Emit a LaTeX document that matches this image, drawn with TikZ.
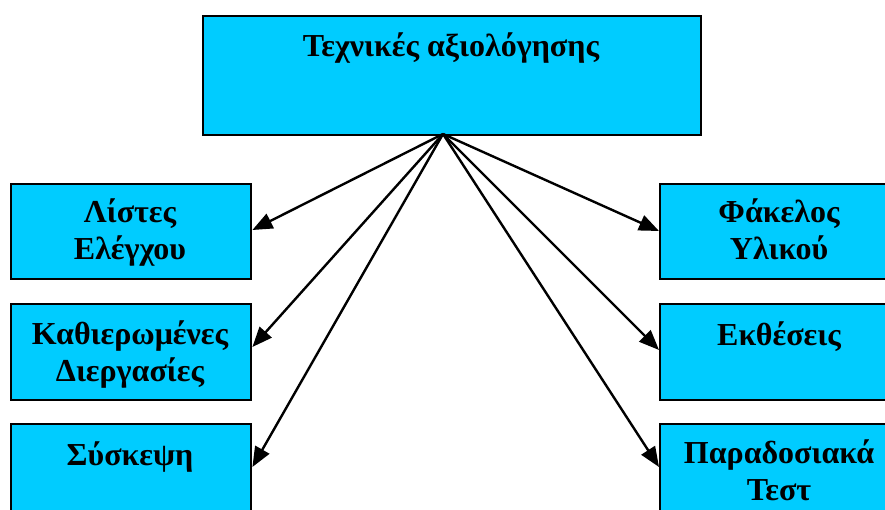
\documentclass[tikz,border=0pt]{standalone}
\usepackage{fontspec}
\setmainfont{Liberation Serif}
\usetikzlibrary{arrows.meta,calc}
\tikzset{
  box/.style={draw=black, line width=2.4pt, fill=boxblue, anchor=north west, inner sep=0pt},
  lbl/.style={font=\bfseries\fontsize{32}{37}\selectfont, align=center, anchor=base, inner sep=0pt},
  arr/.style={line width=2.4pt, -{Triangle[length=20pt,width=16pt]}}
}
\definecolor{boxblue}{RGB}{0,204,255}
\begin{document}
\begin{tikzpicture}[x=1pt,y=-1pt]
\useasboundingbox (0,0) rectangle (885,510);
\clip (0,0) rectangle (885,510);
\node[box, minimum width=498pt, minimum height=119pt] (top) at (202,15) {};
\node[box, minimum width=240pt, minimum height=95pt] (l1) at (10,183) {};
\node[box, minimum width=240pt, minimum height=96pt] (l2) at (10,303) {};
\node[box, minimum width=240pt, minimum height=95pt] (l3) at (10,423) {};
\node[box, minimum width=240pt, minimum height=95pt] (r1) at (659,183) {};
\node[box, minimum width=240pt, minimum height=96pt] (r2) at (659,303) {};
\node[box, minimum width=240pt, minimum height=95pt] (r3) at (659,423) {};
\node[lbl] (ttop) at (451,57) {Τεχνικές αξιολόγησης};
\node[lbl] (tl1) at (130,260) {Λίστες\\Ελέγχου};
\node[lbl] (tl2) at (130,381) {Καθιερωμένες\\Διεργασίες};
\node[lbl] (tl3) at (130,465) {Σύσκεψη};
\node[lbl] (tr1) at (779,260) {Φάκελος\\Υλικού};
\node[lbl] (tr2) at (779,345) {Εκθέσεις};
\node[lbl] (tr3) at (779,500) {Παραδοσιακά\\Τεστ};
\coordinate (o) at (443,134);
\draw[arr] (o) -- (l1.east |- 0,230);
\draw[arr] (o) -- (l2.east |- 0,347);
\draw[arr] (o) -- (l3.east |- 0,467);
\draw[arr] (o) -- (r1.west |- 0,231);
\draw[arr] (o) -- (r2.west |- 0,350);
\draw[arr] (o) -- (r3.west |- 0,467);
\end{tikzpicture}
\end{document}
